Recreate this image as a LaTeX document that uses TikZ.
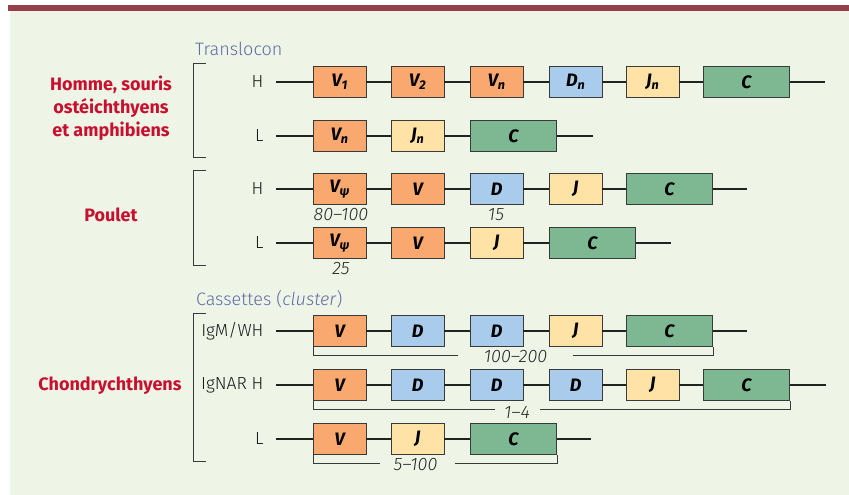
\documentclass[tikz,border=0pt]{standalone}
\usepackage{fontspec}
\setmainfont{Fira Sans}
\newfontfamily\lightfont{Fira Sans Light}
\usetikzlibrary{positioning}

\definecolor{barred}{HTML}{953F4A}
\definecolor{panel}{HTML}{EFF5E6}
\definecolor{vcol}{HTML}{F9A86F}
\definecolor{dcol}{HTML}{A9CBEC}
\definecolor{jcol}{HTML}{FFE3A6}
\definecolor{ccol}{HTML}{7DB893}
\definecolor{segline}{HTML}{3A3A3A}
\definecolor{rowline}{HTML}{222222}
\definecolor{specred}{HTML}{C8102E}
\definecolor{groupblue}{HTML}{5E6CA8}

\begin{document}
\begin{tikzpicture}[x=1pt,y=-1pt,
	seg/.style={draw=segline, line width=0.9pt, anchor=west, inner sep=0pt,
		minimum height=30.5pt, minimum width=52.5pt,
		font=\fontsize{18}{18}\selectfont\bfseries\itshape},
	vseg/.style={seg, fill=vcol},
	dseg/.style={seg, fill=dcol},
	jseg/.style={seg, fill=jcol},
	cseg/.style={seg, fill=ccol, minimum width=86pt},
	row/.style={draw=rowline, line width=1.6pt},
	rowlabel/.style={anchor=east, text=black!90, font=\lightfont\fontsize{17.5}{17.5}\selectfont},
	count/.style={text=black!85, font=\lightfont\itshape\fontsize{18}{18}\selectfont},
	species/.style={text=specred, align=center, font=\bfseries\fontsize{18}{23}\selectfont},
	group/.style={anchor=base west, text=groupblue, font=\lightfont\fontsize{18}{18}\selectfont},
	bracket/.style={draw=segline, line width=1pt},
	span/.style={draw=segline, line width=0.8pt}]

	\useasboundingbox (0,0) rectangle (849,495);

	% background
	\fill[panel] (10,11) rectangle (849,495);
	\fill[barred] (7.7,5.3) rectangle (849,11);

	% species
	\node[species] (homme) at (111,108) {Homme, souris\\ostéichthyens\\et amphibiens};
	\node[species] (poulet) at (111,215) {Poulet};
	\node[species] (chondro) at (110,386) {Chondrychthyens};

	% group titles
	\node[group] (transl) at (191.7,56) {Translocon};
	\node[group] (cass) at (192.5,305.5) {Cassettes (\textit{cluster})};

	% brackets
	\draw[bracket] (206,63.3) -- (193.3,63.3) -- (193.3,157.7) -- (206,157.7);
	\draw[bracket] (206,170.7) -- (193.3,170.7) -- (193.3,265.3) -- (206,265.3);
	\draw[bracket] (206,313.3) -- (193.3,313.3) -- (193.3,461.7) -- (206,461.7);

	% row labels
	\node[rowlabel] (lh1) at (267,82) {H};
	\node[rowlabel] (ll1) at (267,136) {L};
	\node[rowlabel] (lh2) at (267,189) {H};
	\node[rowlabel] (ll2) at (267,243) {L};
	\node[rowlabel] (lm) at (267,331) {IgM/WH};
	\node[rowlabel] (lnar) at (267,385) {IgNAR H};
	\node[rowlabel] (ll3) at (267,439) {L};

	% translocon H
	\coordinate (h1s) at (276,82);
	\node[vseg] (h1v1) at (313,82) {V\textsubscript{1}};
	\node[vseg] (h1v2) at (391,82) {V\textsubscript{2}};
	\node[vseg] (h1vn) at (470,82) {V\textsubscript{n}};
	\node[dseg] (h1dn) at (549,82) {D\textsubscript{n}};
	\node[jseg] (h1jn) at (626,82) {J\textsubscript{n}};
	\node[cseg] (h1c) at (703,82) {C};
	\coordinate (h1e) at (825,82);
	\draw[row] (h1s) -- (h1v1) -- (h1v2) -- (h1vn) -- (h1dn) -- (h1jn) -- (h1c) -- (h1e);

	% translocon L
	\coordinate (l1s) at (276,136);
	\node[vseg] (l1vn) at (313,136) {V\textsubscript{n}};
	\node[jseg] (l1jn) at (391,136) {J\textsubscript{n}};
	\node[cseg] (l1c) at (470,136) {C};
	\coordinate (l1e) at (593,136);
	\draw[row] (l1s) -- (l1vn) -- (l1jn) -- (l1c) -- (l1e);

	% poulet H
	\coordinate (h2s) at (276,189);
	\node[vseg] (h2vp) at (313,189) {V\textsubscript{ψ}};
	\node[vseg] (h2v) at (391,189) {V};
	\node[dseg] (h2d) at (470,189) {D};
	\node[jseg] (h2j) at (549,189) {J};
	\node[cseg] (h2c) at (626,189) {C};
	\coordinate (h2e) at (747,189);
	\draw[row] (h2s) -- (h2vp) -- (h2v) -- (h2d) -- (h2j) -- (h2c) -- (h2e);
	\node[count] (h2nv) at (341,215) {80–100};
	\node[count] (h2nd) at (496,215) {15};

	% poulet L
	\coordinate (l2s) at (276,243);
	\node[vseg] (l2vp) at (313,243) {V\textsubscript{ψ}};
	\node[vseg] (l2v) at (391,243) {V};
	\node[jseg] (l2j) at (470,243) {J};
	\node[cseg] (l2c) at (549,243) {C};
	\coordinate (l2e) at (671,243);
	\draw[row] (l2s) -- (l2vp) -- (l2v) -- (l2j) -- (l2c) -- (l2e);
	\node[count] (l2nv) at (341,269) {25};

	% IgM/WH
	\coordinate (ms) at (276,331);
	\node[vseg] (mv) at (313,331) {V};
	\node[dseg] (md1) at (391,331) {D};
	\node[dseg] (md2) at (470,331) {D};
	\node[jseg] (mj) at (549,331) {J};
	\node[cseg] (mc) at (626,331) {C};
	\coordinate (me) at (747,331);
	\draw[row] (ms) -- (mv) -- (md1) -- (md2) -- (mj) -- (mc) -- (me);
	\node[count] (mn) at (515.5,357) {100–200};
	\draw[span] (mv.south west) |- ([shift={(-22,-2)}]mn.west);
	\draw[span] ([shift={(22,-2)}]mn.east) -| (mc.south east);

	% IgNAR H
	\coordinate (ns) at (276,385);
	\node[vseg] (nv) at (313,385) {V};
	\node[dseg] (nd1) at (391,385) {D};
	\node[dseg] (nd2) at (470,385) {D};
	\node[dseg] (nd3) at (549,385) {D};
	\node[jseg] (nj) at (626,385) {J};
	\node[cseg] (nc) at (703,385) {C};
	\coordinate (ne) at (826,385);
	\draw[row] (ns) -- (nv) -- (nd1) -- (nd2) -- (nd3) -- (nj) -- (nc) -- (ne);
	\node[count] (nn) at (517,412) {1–4};
	\draw[span] (nv.south west) |- ([shift={(-6,-3)}]nn.west);
	\draw[span] ([shift={(7,-3)}]nn.east) -| (nc.south east);

	% chondrichthyens L
	\coordinate (l3s) at (276,439);
	\node[vseg] (l3v) at (313,439) {V};
	\node[jseg] (l3j) at (391,439) {J};
	\node[cseg] (l3c) at (470,439) {C};
	\coordinate (l3e) at (591,439);
	\draw[row] (l3s) -- (l3v) -- (l3j) -- (l3c) -- (l3e);
	\node[count] (l3n) at (415.5,465) {5–100};
	\draw[span] (l3v.south west) |- ([shift={(-10,-2)}]l3n.west);
	\draw[span] ([shift={(14,-2)}]l3n.east) -| (l3c.south east);

\end{tikzpicture}
\end{document}
